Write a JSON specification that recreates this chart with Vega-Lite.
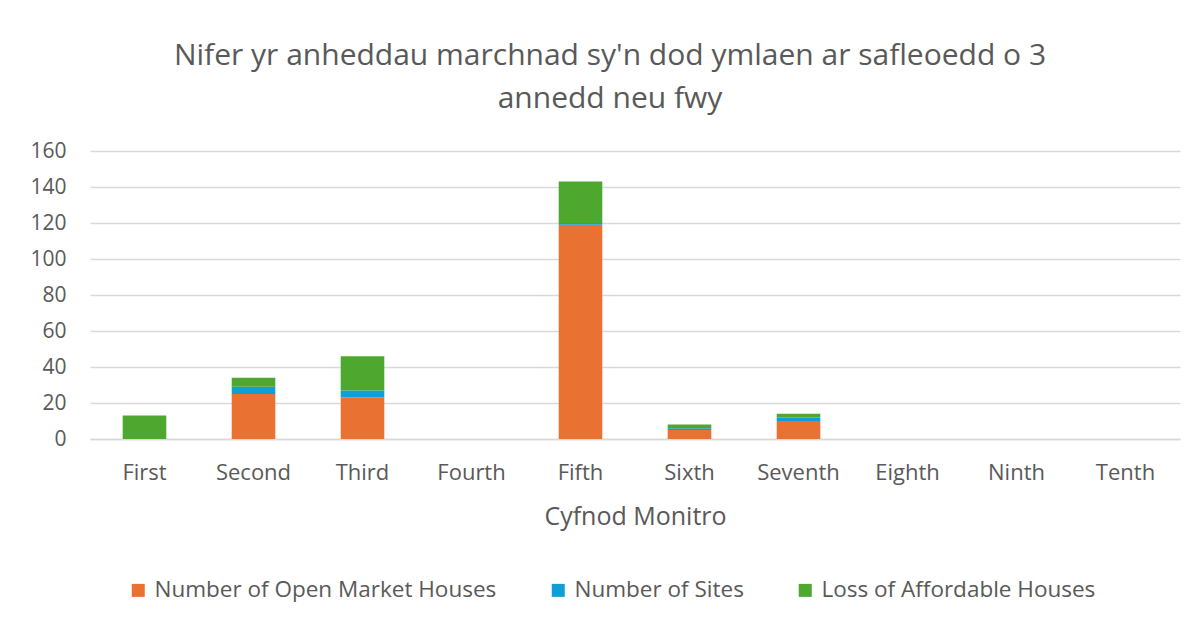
{
  "$schema": "https://vega.github.io/schema/vega-lite/v6.json",
  "width": 1090,
  "height": 288,
  "autosize": {"type": "none"},
  "padding": {"left": 90, "top": 151, "right": 17, "bottom": 180},
  "background": "white",
  "title": {
    "text": ["Nifer yr anheddau marchnad sy'n dod ymlaen ar safleoedd o 3", "annedd neu fwy"],
    "font": "Open Sans",
    "fontSize": 30,
    "fontWeight": "normal",
    "color": "#595959",
    "anchor": "middle",
    "dx": -25,
    "offset": 26,
    "lineHeight": 43
  },
  "config": {
    "view": {"stroke": null},
    "font": "Open Sans"
  },
  "data": {
    "values": [
      {"period": "First", "series": "Number of Open Market Houses", "value": 0},
      {"period": "First", "series": "Number of Sites", "value": 0},
      {"period": "First", "series": "Loss of Affordable Houses", "value": 13},
      {"period": "Second", "series": "Number of Open Market Houses", "value": 25},
      {"period": "Second", "series": "Number of Sites", "value": 4},
      {"period": "Second", "series": "Loss of Affordable Houses", "value": 5},
      {"period": "Third", "series": "Number of Open Market Houses", "value": 23},
      {"period": "Third", "series": "Number of Sites", "value": 4},
      {"period": "Third", "series": "Loss of Affordable Houses", "value": 19},
      {"period": "Fourth", "series": "Number of Open Market Houses", "value": 0},
      {"period": "Fourth", "series": "Number of Sites", "value": 0},
      {"period": "Fourth", "series": "Loss of Affordable Houses", "value": 0},
      {"period": "Fifth", "series": "Number of Open Market Houses", "value": 119},
      {"period": "Fifth", "series": "Number of Sites", "value": 1},
      {"period": "Fifth", "series": "Loss of Affordable Houses", "value": 23},
      {"period": "Sixth", "series": "Number of Open Market Houses", "value": 5},
      {"period": "Sixth", "series": "Number of Sites", "value": 1},
      {"period": "Sixth", "series": "Loss of Affordable Houses", "value": 2},
      {"period": "Seventh", "series": "Number of Open Market Houses", "value": 10},
      {"period": "Seventh", "series": "Number of Sites", "value": 2},
      {"period": "Seventh", "series": "Loss of Affordable Houses", "value": 2},
      {"period": "Eighth", "series": "Number of Open Market Houses", "value": 0},
      {"period": "Ninth", "series": "Number of Open Market Houses", "value": 0},
      {"period": "Tenth", "series": "Number of Open Market Houses", "value": 0}
    ]
  },
  "transform": [
    {"calculate": "indexof(['Number of Open Market Houses','Number of Sites','Loss of Affordable Houses'], datum.series)", "as": "order"}
  ],
  "mark": {"type": "bar"},
  "encoding": {
    "x": {
      "field": "period",
      "type": "nominal",
      "sort": ["First", "Second", "Third", "Fourth", "Fifth", "Sixth", "Seventh", "Eighth", "Ninth", "Tenth"],
      "scale": {"paddingInner": 0.6, "paddingOuter": 0.3},
      "axis": {
        "title": "Cyfnod Monitro",
        "titleFont": "Open Sans",
        "titleFontSize": 25,
        "titleFontWeight": "normal",
        "titleColor": "#595959",
        "titlePadding": 21,
        "labelFont": "Open Sans",
        "labelFontSize": 22,
        "labelColor": "#595959",
        "labelAngle": 0,
        "labelPadding": 23,
        "ticks": false,
        "domainColor": "#D9D9D9",
        "domainWidth": 1.5,
        "grid": false
      }
    },
    "y": {
      "field": "value",
      "type": "quantitative",
      "aggregate": "sum",
      "stack": "zero",
      "scale": {"domain": [0, 160]},
      "axis": {
        "title": null,
        "values": [0, 20, 40, 60, 80, 100, 120, 140, 160],
        "labelFont": "Open Sans",
        "labelFontSize": 21,
        "labelColor": "#595959",
        "labelPadding": 24,
        "ticks": false,
        "domain": false,
        "gridColor": "#D9D9D9",
        "gridWidth": 1.5
      }
    },
    "color": {
      "field": "series",
      "type": "nominal",
      "sort": ["Number of Open Market Houses", "Number of Sites", "Loss of Affordable Houses"],
      "scale": {
        "domain": ["Number of Open Market Houses", "Number of Sites", "Loss of Affordable Houses"],
        "range": ["#E97132", "#0F9ED5", "#4EA72E"]
      },
      "legend": {
        "title": null,
        "orient": "none",
        "direction": "horizontal",
        "legendX": 37,
        "legendY": 428,
        "symbolType": "square",
        "symbolSize": 169,
        "symbolStrokeWidth": 0,
        "labelFont": "Open Sans",
        "labelFontSize": 22.5,
        "labelColor": "#595959",
        "labelOffset": 5,
        "labelLimit": 0,
        "columnPadding": 50
      }
    },
    "order": {"field": "order", "type": "quantitative"}
  }
}
